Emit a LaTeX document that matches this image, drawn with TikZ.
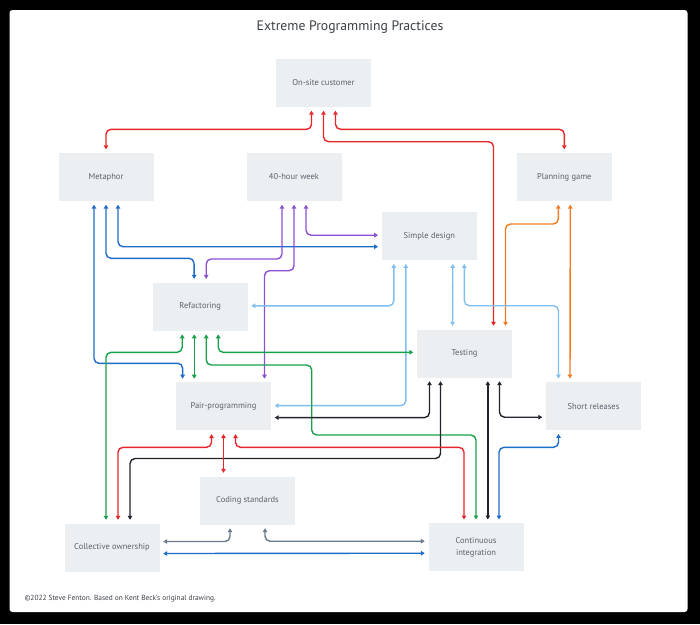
\documentclass[tikz,border=0pt]{standalone}
\usepackage{fontspec}
\setmainfont{PT Sans}
\usetikzlibrary{arrows.meta,calc}
\definecolor{boxgray}{HTML}{ECEFF2}
\definecolor{labelgray}{HTML}{5B626B}
\definecolor{titlegray}{HTML}{3A3F45}
\definecolor{cred}{HTML}{E8262A}
\definecolor{cblue}{HTML}{1C6DC9}
\definecolor{cpurple}{HTML}{8B50D4}
\definecolor{corange}{HTML}{F27B21}
\definecolor{clight}{HTML}{80BFF0}
\definecolor{cgreen}{HTML}{16A24A}
\definecolor{cblack}{HTML}{22262C}
\definecolor{cslate}{HTML}{6B7A8B}

\begin{document}
\begin{tikzpicture}[
    x=1pt, y=-1pt,
    every node/.style={align=center},
    box/.style={
        fill=boxgray,
        text=labelgray,
        minimum width=95pt,
        minimum height=48pt,
        inner sep=2pt,
        font=\fontsize{8.5}{12}\selectfont
    },
    link/.style={
        {Triangle[length=4pt,width=4.5pt]}-{Triangle[length=4pt,width=4.5pt]},
        line width=1.4pt,
        rounded corners=5pt,
        shorten <=3.5pt,
        shorten >=3.5pt
    }
]

\fill[black] (0,0) rectangle (700,624);
\fill[white, rounded corners=3pt] (9.5,10) rectangle (687.5,612);

\node[text=titlegray, font=\fontsize{13.7}{16}\selectfont] (title) at (350,27) {Extreme Programming Practices};

\node[box] (cust) at (323.5,83) {On-site customer};

\node[box] (metaphor) at (106,177) {Metaphor};
\node[box] (week) at (294,177) {40-hour week};
\node[box] (planning) at (564.3,177) {Planning game};

\node[box] (simple) at (429.3,236.2) {Simple design};
\node[box] (refactor) at (200.2,306.6) {Refactoring};
\node[box] (testing) at (464.5,353.5) {Testing};

\node[box] (pair) at (223.5,406.4) {Pair-programming};
\node[box] (short) at (593.5,406.2) {Short releases};

\node[box] (coding) at (247.5,500.5) {Coding standards};
\node[box] (collective) at (112,547.5) {Collective ownership};
\node[box] (ci) at (476,547.2) {Continuous\\integration};

\node[anchor=west, text=titlegray, font=\fontsize{7.4}{9}\selectfont] (credit) at (21,599) {©2022 Steve Fenton. Based on Kent Beck's original drawing.};

\draw[link, cred] ($(cust.south)+(-12,0)$) |- (106,129.3) -- (metaphor.north);
\draw[link, cred] (cust.south) |- (493.5,141.7) -- ($(testing.north)+(29,0)$);
\draw[link, cred] ($(cust.south)+(12,0)$) |- (564.3,129.3) -- (planning.north);

\draw[link, cblue] ($(metaphor.south)+(-12,0)$) |- (182.7,363.3) -- ($(pair.north)+(-41,0)$);
\draw[link, cblue] (metaphor.south) |- (194,258.3) -- ($(refactor.north)+(-6,0)$);
\draw[link, cblue] ($(metaphor.south)+(12,0)$) |- ($(simple.west)+(0,10.5)$);

\draw[link, cpurple] ($(week.south)+(-12,0)$) |- (206.2,259) -- ($(refactor.north)+(6,0)$);
\draw[link, cpurple] (week.south) |- (264.5,270.7) -- ($(pair.north)+(41,0)$);
\draw[link, cpurple] ($(week.south)+(12,0)$) |- ($(simple.west)+(0,-1)$);

\draw[link, corange] ($(planning.south)+(-6,0)$) |- (505.5,224) -- ($(testing.north)+(41,0)$);
\draw[link, corange] ($(planning.south)+(6,0)$) -- ($(short.north)+(-23.5,0)$);

\draw[link, clight] ($(simple.south)+(-35.5,0)$) |- ($(refactor.east)+(0,-0.8)$);
\draw[link, clight] ($(simple.south)+(-23.5,0)$) |- ($(pair.east)+(0,-0.8)$);
\draw[link, clight] ($(simple.south)+(23.5,0)$) -- ($(testing.north)+(-12,0)$);
\draw[link, clight] ($(simple.south)+(35,0)$) |- (558.5,305.7) -- ($(short.north)+(-35,0)$);

\draw[link, cgreen] ($(refactor.south)+(-18,0)$) |- (106,352.3) -- ($(collective.north)+(-6,0)$);
\draw[link, cgreen] ($(refactor.south)+(-6,0)$) -- ($(pair.north)+(-29.3,0)$);
\draw[link, cgreen] ($(refactor.south)+(6,0)$) |- (311.7,365) |- (476,435) -- (ci.north);
\draw[link, cgreen] ($(refactor.south)+(18,0)$) |- ($(testing.west)+(0,-1.2)$);

\draw[link, cblack] ($(pair.east)+(0,11.2)$) -| ($(testing.south)+(-35,0)$);
\draw[link, cblack] ($(testing.south)+(-24,0)$) |- (130,458.5) -- ($(collective.north)+(18,0)$);
\draw[link, cblack] ($(testing.south)+(23.3,0)$) -- ($(ci.north)+(11.8,0)$);
\draw[link, cblack] ($(testing.south)+(35,0)$) |- ($(short.west)+(0,11)$);

\draw[link, cred] ($(pair.south)+(-12,0)$) |- (118,447.3) -- ($(collective.north)+(6,0)$);
\draw[link, cred] (pair.south) -- ($(coding.north)+(-24,0)$);
\draw[link, cred] ($(pair.south)+(12,0)$) |- (464,447.3) -- ($(ci.north)+(-12,0)$);

\draw[link, cslate] ($(collective.east)+(0,-6)$) -| ($(coding.south)+(-17.5,0)$);
\draw[link, cslate] ($(coding.south)+(17.5,0)$) |- ($(ci.west)+(0,-6)$);

\draw[link, cblue] ($(collective.east)+(0,6)$) -- ($(ci.west)+(0,6)$);
\draw[link, cblue] ($(ci.north)+(23,0)$) |- (558.5,447.3) -- ($(short.south)+(-35,0)$);

\end{tikzpicture}
\end{document}
